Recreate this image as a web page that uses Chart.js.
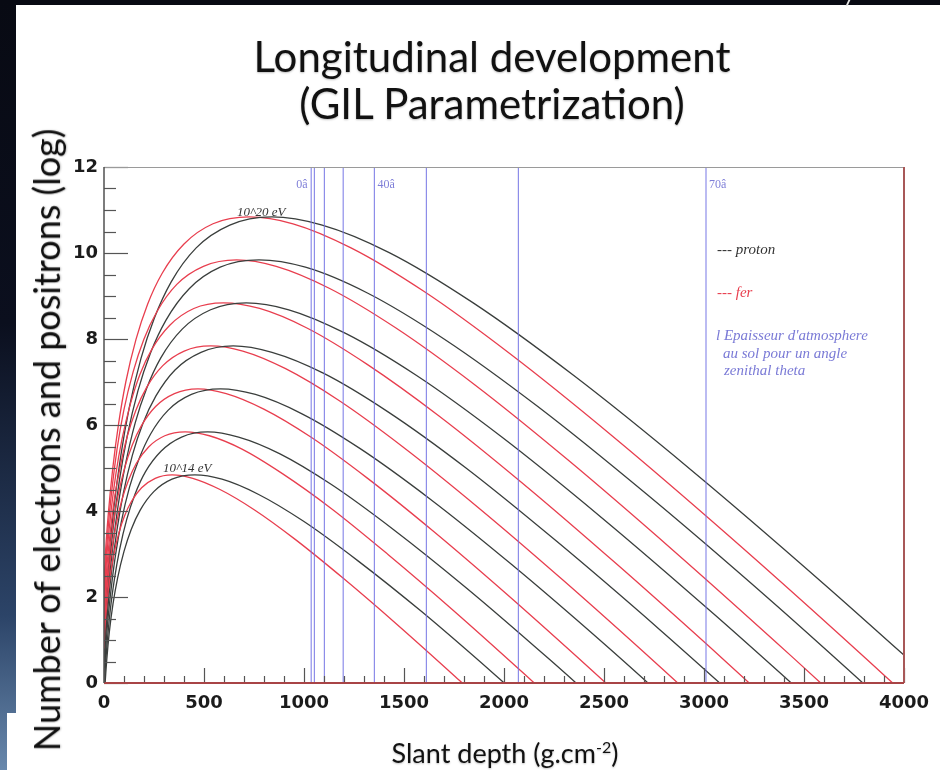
<!DOCTYPE html>
<html>
<head>
<meta charset="utf-8">
<script src="https://cdn.jsdelivr.net/npm/chart.js@4.4.0/dist/chart.umd.min.js"></script>
<style>
  body { margin: 0; width: 940px; height: 770px; overflow: hidden; position: relative; background: #080a13; font-family: Lato, "Open Sans", sans-serif; }
  #edge { position: absolute; left: 0; top: 0; width: 16px; height: 770px; background: linear-gradient(to bottom, #080a13 0%, #0b0f1e 42%, #2c4468 80%, #6888ac 100%); }
  #slide { position: absolute; left: 16px; top: 5px; right: 0; bottom: 0; background: #fff; }
  #slideFoot { position: absolute; left: 7px; top: 713px; width: 9px; bottom: 0; background: #fff; }
  #notch { position: absolute; left: 847px; top: 0; width: 2px; height: 6px; background: #e8e8e8; transform: skewX(-25deg); }
  #title { position: absolute; left: 192px; width: 600px; top: 33px; text-align: center; font-size: 42px; line-height: 47px; color: #111; text-shadow: 0 1px 2px rgba(0,0,0,0.25); }
  #yTitle { position: absolute; left: 46px; top: 440px; transform: translate(-50%, -50%) rotate(-90deg); white-space: nowrap; font-size: 36px; color: #111; text-shadow: 0 1px 2px rgba(0,0,0,0.25); }
  #xTitle { position: absolute; left: 505px; top: 752px; transform: translate(-50%, -50%); white-space: nowrap; font-size: 27px; color: #111; text-shadow: 0 1px 2px rgba(0,0,0,0.25); }
  #xTitle sup { font-size: 16px; }
  canvas { position: absolute; left: 0; top: 0; }
</style>
</head>
<body>
<div id="edge"></div>
<div id="slide"></div>
<div id="slideFoot"></div>
<div id="notch"></div>
<canvas id="canvasGil" width="940" height="770"></canvas>
<div id="title">Longitudinal development<br>(GIL Parametrization)</div>
<div id="yTitle">Number of electrons and positrons (log)</div>
<div id="xTitle">Slant depth (g.cm<sup>-2</sup>)</div>

<script>
"use strict";

// proton showers, 10^14 .. 10^20 eV : slant depth (g/cm2) and log10 of the electron number
var depthP14 = [0, 5, 14, 27, 45, 68, 100, 136, 181, 249, 340, 454, 590, 771, 998, 1270, 1588, 1950, 2359];
var logP14 = [-0.53, -0.05, 0.55, 1.20, 1.84, 2.44, 3.06, 3.57, 4.02, 4.45, 4.74, 4.84, 4.74, 4.39, 3.76, 2.84, 1.66, 0.21, -1.49];
var depthP15 = [0, 5, 16, 31, 52, 78, 114, 155, 207, 285, 388, 518, 673, 880, 1139, 1450, 1812, 2227, 2693];
var logP15 = [-0.29, 0.25, 0.94, 1.68, 2.41, 3.10, 3.81, 4.39, 4.91, 5.39, 5.72, 5.84, 5.72, 5.33, 4.61, 3.56, 2.21, 0.55, -1.39];
var depthP16 = [0, 6, 17, 35, 58, 87, 128, 175, 233, 320, 437, 582, 757, 990, 1281, 1630, 2037, 2503, 3027];
var logP16 = [-0.05, 0.56, 1.33, 2.16, 2.99, 3.76, 4.56, 5.21, 5.79, 6.34, 6.71, 6.84, 6.71, 6.26, 5.45, 4.28, 2.76, 0.90, -1.29];
var depthP17 = [0, 6, 19, 39, 65, 97, 142, 194, 259, 355, 485, 646, 840, 1099, 1422, 1810, 2262, 2779, 3361];
var logP17 = [0.19, 0.87, 1.72, 2.65, 3.56, 4.42, 5.30, 6.03, 6.67, 7.28, 7.69, 7.84, 7.69, 7.20, 6.30, 5.00, 3.30, 1.24, -1.18];
var depthP18 = [0, 7, 21, 43, 71, 107, 156, 213, 284, 391, 533, 711, 924, 1208, 1563, 1989, 2487, 3055, 3695];
var logP18 = [0.43, 1.17, 2.12, 3.13, 4.14, 5.08, 6.05, 6.85, 7.56, 8.23, 8.68, 8.84, 8.68, 8.13, 7.15, 5.72, 3.85, 1.58, -1.08];
var depthP19 = [0, 8, 23, 46, 77, 116, 170, 232, 310, 426, 581, 775, 1007, 1317, 1704, 2169, 2711, 3331, 4028];
var logP19 = [0.67, 1.48, 2.51, 3.62, 4.71, 5.74, 6.80, 7.67, 8.44, 9.17, 9.67, 9.84, 9.67, 9.07, 7.99, 6.43, 4.40, 1.93, -0.98];
var depthP20 = [0, 8, 25, 50, 84, 126, 185, 252, 336, 461, 629, 839, 1091, 1426, 1846, 2349, 2937, 3608, 4363];
var logP20 = [0.91, 1.79, 2.90, 4.10, 5.29, 6.40, 7.55, 8.49, 9.33, 10.12, 10.65, 10.84, 10.65, 10.01, 8.84, 7.15, 4.95, 2.27, -0.87];

// iron showers
var depthFe14 = [0, 3, 10, 20, 34, 51, 75, 102, 137, 188, 256, 341, 444, 580, 751, 956, 1195, 1468, 1775, 2048];
var logFe14 = [0.80, 1.16, 1.61, 2.10, 2.58, 3.03, 3.50, 3.88, 4.22, 4.54, 4.76, 4.84, 4.76, 4.50, 4.03, 3.34, 2.44, 1.35, 0.07, -1.09];
var depthFe15 = [0, 4, 12, 24, 41, 61, 89, 122, 162, 223, 304, 406, 527, 690, 892, 1136, 1420, 1744, 2109, 2434];
var logFe15 = [1.04, 1.46, 2.00, 2.58, 3.16, 3.69, 4.25, 4.71, 5.11, 5.49, 5.75, 5.84, 5.75, 5.44, 4.87, 4.06, 2.99, 1.70, 0.18, -1.21];
var depthFe16 = [0, 5, 14, 28, 47, 70, 103, 141, 188, 258, 352, 470, 611, 799, 1034, 1315, 1644, 2020, 2443, 2819];
var logFe16 = [1.28, 1.77, 2.39, 3.07, 3.73, 4.35, 5.00, 5.53, 5.99, 6.43, 6.73, 6.84, 6.73, 6.37, 5.72, 4.77, 3.54, 2.04, 0.28, -1.32];
var depthFe17 = [0, 5, 16, 32, 53, 80, 117, 160, 214, 294, 401, 534, 694, 908, 1175, 1495, 1869, 2296, 2777, 3204];
var logFe17 = [1.52, 2.08, 2.79, 3.55, 4.31, 5.01, 5.75, 6.35, 6.88, 7.38, 7.72, 7.84, 7.72, 7.31, 6.57, 5.49, 4.09, 2.39, 0.39, -1.44];
var depthFe18 = [0, 6, 18, 36, 60, 90, 132, 179, 239, 329, 449, 598, 778, 1017, 1316, 1675, 2094, 2572, 3111, 3589];
var logFe18 = [1.76, 2.39, 3.18, 4.03, 4.88, 5.67, 6.49, 7.17, 7.76, 8.32, 8.71, 8.84, 8.71, 8.25, 7.41, 6.21, 4.64, 2.73, 0.49, -1.55];
var depthFe19 = [0, 7, 20, 40, 66, 99, 146, 199, 265, 364, 497, 663, 861, 1126, 1458, 1855, 2319, 2849, 3445, 3975];
var logFe19 = [2.00, 2.69, 3.57, 4.52, 5.46, 6.34, 7.24, 7.99, 8.64, 9.27, 9.69, 9.84, 9.69, 9.18, 8.26, 6.93, 5.19, 3.07, 0.59, -1.67];
var depthFe20 = [0, 7, 22, 44, 73, 109, 160, 218, 291, 400, 545, 727, 945, 1235, 1599, 2035, 2543, 3125, 3779, 4360];
var logFe20 = [2.24, 3.00, 3.96, 5.00, 6.03, 7.00, 7.99, 8.81, 9.53, 10.21, 10.68, 10.84, 10.68, 10.12, 9.11, 7.64, 5.74, 3.42, 0.70, -1.79];

// atmosphere thickness at ground, slant depth for zenith angles 0..70 deg
var zenithDepth = [1036, 1052, 1102, 1196, 1352, 1612, 2072, 3010];
var zenithText = ['0\u00e2', '', '', '', '40\u00e2', '', '', '70\u00e2'];

var protonColor = 'rgb(58, 62, 60)';
var ironColor = 'rgb(232, 62, 78)';
var zenithColor = 'rgba(112, 112, 228, 0.8)';

function MakeCurve(depth, logN, color) {
	return {
		data: depth.map(function (x, i) { return { x: x, y: logN[i] }; }),
		showLine: true,
		borderColor: color,
		borderWidth: 1.3,
		pointRadius: 0,
		cubicInterpolationMode: 'monotone',
		order: 1
	};
}

function MakeZenithLine(depth) {
	return {
		data: [{ x: depth, y: 0 }, { x: depth, y: 12 }],
		showLine: true,
		borderColor: zenithColor,
		borderWidth: 1.2,
		pointRadius: 0,
		order: 0
	};
}

var datasets = [
	MakeCurve(depthP14, logP14, protonColor), MakeCurve(depthFe14, logFe14, ironColor),
	MakeCurve(depthP15, logP15, protonColor), MakeCurve(depthFe15, logFe15, ironColor),
	MakeCurve(depthP16, logP16, protonColor), MakeCurve(depthFe16, logFe16, ironColor),
	MakeCurve(depthP17, logP17, protonColor), MakeCurve(depthFe17, logFe17, ironColor),
	MakeCurve(depthP18, logP18, protonColor), MakeCurve(depthFe18, logFe18, ironColor),
	MakeCurve(depthP19, logP19, protonColor), MakeCurve(depthFe19, logFe19, ironColor),
	MakeCurve(depthP20, logP20, protonColor), MakeCurve(depthFe20, logFe20, ironColor)
];
zenithDepth.forEach(function (d) { datasets.push(MakeZenithLine(d)); });

// ROOT style frame: inward ticks, coloured borders, TLatex-like notes
var rootFrame = {
	id: 'rootFrame',
	afterDraw: function (chart) {
		var ctx = chart.ctx, a = chart.chartArea, x = chart.scales.x, y = chart.scales.y;
		ctx.save();

		ctx.strokeStyle = '#555';
		ctx.lineWidth = 1.2;
		for (var v = 0; v <= 12; v += 0.5) {
			var py = Math.round(y.getPixelForValue(v)) + 0.5;
			var len = (v % 2 === 0) ? 24 : 12;
			ctx.beginPath(); ctx.moveTo(a.left, py); ctx.lineTo(a.left + len, py); ctx.stroke();
		}
		for (var d = 0; d <= 4000; d += 100) {
			var px = Math.round(x.getPixelForValue(d)) + 0.5;
			var tl = (d % 500 === 0) ? 15 : 7;
			ctx.beginPath(); ctx.moveTo(px, a.bottom); ctx.lineTo(px, a.bottom - tl); ctx.stroke();
		}

		ctx.lineWidth = 1;
		ctx.strokeStyle = '#9a9a9a';
		ctx.beginPath(); ctx.moveTo(a.left, a.top + 0.5); ctx.lineTo(a.right, a.top + 0.5); ctx.stroke();
		ctx.lineWidth = 2;
		ctx.strokeStyle = '#a85858';
		ctx.beginPath(); ctx.moveTo(a.right, a.top); ctx.lineTo(a.right, a.bottom); ctx.stroke();
		ctx.strokeStyle = '#a84446';
		ctx.beginPath(); ctx.moveTo(a.left, a.bottom); ctx.lineTo(a.right, a.bottom); ctx.stroke();
		ctx.lineWidth = 1.5;
		ctx.strokeStyle = '#505050';
		ctx.beginPath(); ctx.moveTo(a.left, a.top); ctx.lineTo(a.left, a.bottom); ctx.stroke();

		// zenith angle labels
		ctx.font = '12px "Liberation Serif"';
		ctx.fillStyle = '#7f7fd8';
		ctx.textBaseline = 'middle';
		zenithDepth.forEach(function (d, i) {
			if (!zenithText[i]) return;
			var px = x.getPixelForValue(d);
			var left = i === 0 ? px - 15 : px + 3;
			ctx.fillText(zenithText[i], left, y.getPixelForValue(11.58));
		});

		// energies
		ctx.font = 'italic 13px "Liberation Serif"';
		ctx.fillStyle = '#333';
		ctx.fillText('10^20 eV', x.getPixelForValue(665), y.getPixelForValue(10.95));
		ctx.fillText('10^14 eV', x.getPixelForValue(295), y.getPixelForValue(4.98));

		// legend notes
		ctx.font = 'italic 15px "Liberation Serif"';
		ctx.fillStyle = '#333';
		ctx.fillText('--- proton', 717, 250);
		ctx.fillStyle = ironColor;
		ctx.fillText('--- fer', 717, 293);
		ctx.fillStyle = '#7a7ad6';
		ctx.fillText('l Epaisseur d\'atmosphere', 716, 336);
		ctx.fillText('au sol pour un angle', 723, 354);
		ctx.fillText('zenithal theta', 724, 371);

		ctx.restore();
	}
};

var tickFont = { family: '"DejaVu Sans"', size: 18, weight: 'bold' };

function PlainTick(value) {
	return String(value);
}

const context = document.getElementById('canvasGil');
const gilChart = new Chart(context, {
	type: 'scatter',
	data: { datasets: datasets },
	options: {
		responsive: false,
		animation: false,
		events: [],
		layout: { padding: { left: 44, right: 36, top: 167, bottom: 47 } },
		plugins: { legend: { display: false }, tooltip: { enabled: false } },
		scales: {
			x: {
				type: 'linear', min: 0, max: 4000,
				grid: { display: false, drawTicks: false }, border: { display: false },
				ticks: { stepSize: 500, font: tickFont, color: '#1b1b1b', padding: 10, maxRotation: 0, callback: PlainTick },
				afterFit: function (scale) { scale.height = 40; }
			},
			y: {
				min: 0, max: 12,
				grid: { display: false, drawTicks: false }, border: { display: false },
				ticks: { stepSize: 2, font: tickFont, color: '#1b1b1b', padding: 6, callback: PlainTick },
				afterFit: function (scale) { scale.width = 60; }
			}
		}
	},
	plugins: [rootFrame]
});
</script>
</body>
</html>
